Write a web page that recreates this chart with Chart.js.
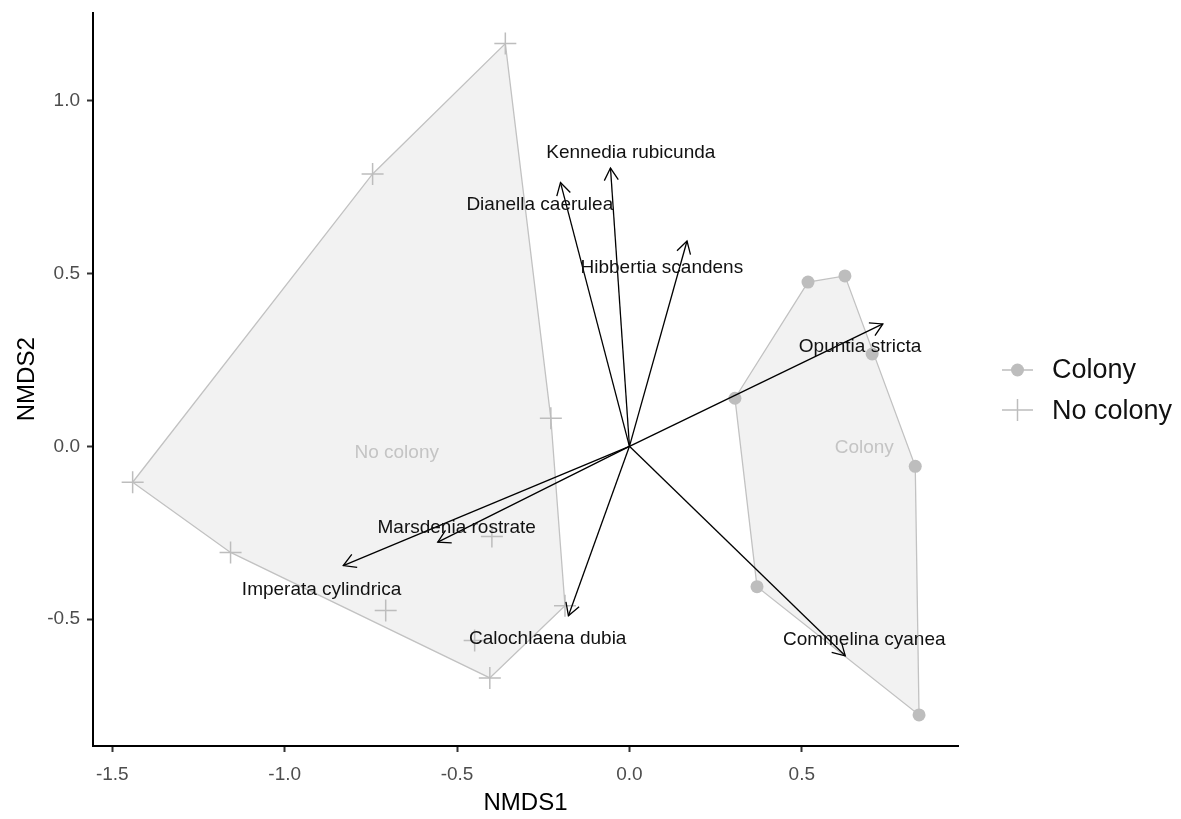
<!DOCTYPE html>
<html>
<head>
<meta charset="utf-8">
<script src="https://cdn.jsdelivr.net/npm/chart.js@4/dist/chart.umd.min.js"></script>
<style>
html,body{margin:0;padding:0;background:#ffffff;}
#wrap{width:1181px;height:819px;position:relative;}
</style>
</head>
<body>
<div id="wrap"><canvas id="c" width="1181" height="819"></canvas></div>
<script>
// ---- data ----
const groups = ['Colony', 'No colony'];

const colonyX = [0.518, 0.625, 0.704, 0.306, 0.829, 0.370, 0.840];
const colonyY = [0.475, 0.493, 0.267, 0.139, -0.058, -0.406, -0.777];

const noColonyX = [-0.360, -0.745, -1.441, -1.157, -0.707, -0.405, -0.187, -0.228, -0.399, -0.449];
const noColonyY = [1.165, 0.788, -0.104, -0.307, -0.475, -0.670, -0.461, 0.081, -0.261, -0.562];

const groupLabelX = [0.681, -0.675];
const groupLabelY = [0.003, -0.014];

const species = ['Kennedia rubicunda', 'Dianella caerulea', 'Hibbertia scandens', 'Opuntia stricta',
                 'Commelina cyanea', 'Calochlaena dubia', 'Marsdenia rostrate', 'Imperata cylindrica'];
const arrowX = [-0.055, -0.200, 0.167, 0.735, 0.626, -0.177, -0.556, -0.830];
const arrowY = [0.805, 0.763, 0.594, 0.354, -0.606, -0.490, -0.277, -0.345];
const labelX = [0.004, -0.260, 0.094, 0.669, 0.681, -0.237, -0.501, -0.893];
const labelY = [0.855, 0.704, 0.522, 0.293, -0.554, -0.551, -0.229, -0.409];

const xTicks = [-1.5, -1.0, -0.5, 0.0, 0.5];
const yTicks = [-0.5, 0.0, 0.5, 1.0];

// ---- helpers ----
const FONT = '"Liberation Sans", Arial, Helvetica, sans-serif';
function toPoints(xs, ys) { return xs.map((x, i) => ({ x: x, y: ys[i] })); }
function convexHull(pts) {
  const p = pts.slice().sort((a, b) => a.x === b.x ? a.y - b.y : a.x - b.x);
  const cross = (o, a, b) => (a.x - o.x) * (b.y - o.y) - (a.y - o.y) * (b.x - o.x);
  const lower = [];
  for (const q of p) { while (lower.length >= 2 && cross(lower[lower.length - 2], lower[lower.length - 1], q) <= 0) lower.pop(); lower.push(q); }
  const upper = [];
  for (let i = p.length - 1; i >= 0; i--) { const q = p[i]; while (upper.length >= 2 && cross(upper[upper.length - 2], upper[upper.length - 1], q) <= 0) upper.pop(); upper.push(q); }
  upper.pop(); lower.pop();
  const h = lower.concat(upper);
  h.push(h[0]);
  return h;
}

const colonyPts = toPoints(colonyX, colonyY);
const noColonyPts = toPoints(noColonyX, noColonyY);

const GREY = '#bdbdbd';
const datasets = [];

// arrows (top)
species.forEach((s, i) => {
  datasets.push({
    label: s, isArrow: true,
    data: [{ x: 0, y: 0 }, { x: arrowX[i], y: arrowY[i] }],
    showLine: true, borderColor: '#000', borderWidth: 1.3,
    pointRadius: 0, pointHoverRadius: 0, fill: false, order: 1
  });
});
// points
datasets.push({
  label: groups[0], data: colonyPts, pointStyle: 'circle', pointRadius: 6.5,
  backgroundColor: GREY, borderColor: GREY, borderWidth: 0, order: 3
});
datasets.push({
  label: groups[1], data: noColonyPts, pointStyle: 'cross', pointRadius: 11,
  borderColor: GREY, backgroundColor: GREY, borderWidth: 1.5, order: 3
});
// hulls
datasets.push({
  label: groups[0] + ' hull', isHull: true, data: convexHull(colonyPts),
  showLine: true, borderColor: '#c2c2c2', borderWidth: 1.3, pointRadius: 0, fill: false, order: 5
});
datasets.push({
  label: groups[1] + ' hull', isHull: true, data: convexHull(noColonyPts),
  showLine: true, borderColor: '#c2c2c2', borderWidth: 1.3, pointRadius: 0, fill: false, order: 5
});

const hullFillPlugin = {
  id: 'hullFill',
  beforeDatasetsDraw(chart) {
    const ctx = chart.ctx;
    ctx.save();
    chart.data.datasets.forEach((ds, i) => {
      if (!ds.isHull) return;
      const meta = chart.getDatasetMeta(i);
      ctx.beginPath();
      meta.data.forEach((pt, j) => { if (j === 0) ctx.moveTo(pt.x, pt.y); else ctx.lineTo(pt.x, pt.y); });
      ctx.closePath();
      ctx.fillStyle = '#f2f2f2';
      ctx.fill();
    });
    ctx.restore();
  }
};

const TEXT_DY = 2;
const overlayPlugin = {
  id: 'overlay',
  afterDatasetsDraw(chart) {
    const ctx = chart.ctx;
    const xs = chart.scales.x, ys = chart.scales.y;
    ctx.save();
    // arrow heads
    chart.data.datasets.forEach((ds, i) => {
      if (!ds.isArrow) return;
      const meta = chart.getDatasetMeta(i);
      const a = meta.data[0], b = meta.data[1];
      const ang = Math.atan2(b.y - a.y, b.x - a.x);
      const L = 14, w = Math.PI / 6;
      ctx.beginPath();
      ctx.moveTo(b.x - L * Math.cos(ang - w), b.y - L * Math.sin(ang - w));
      ctx.lineTo(b.x, b.y);
      ctx.lineTo(b.x - L * Math.cos(ang + w), b.y - L * Math.sin(ang + w));
      ctx.strokeStyle = '#000';
      ctx.lineWidth = 1.3;
      ctx.stroke();
    });
    // group labels
    ctx.font = '19px ' + FONT;
    ctx.textAlign = 'center';
    ctx.textBaseline = 'middle';
    ctx.fillStyle = '#c4c4c4';
    groups.forEach((g, i) => {
      ctx.fillText(g, xs.getPixelForValue(groupLabelX[i]), ys.getPixelForValue(groupLabelY[i]) + TEXT_DY);
    });
    // species labels
    ctx.fillStyle = '#111';
    species.forEach((s, i) => {
      ctx.fillText(s, xs.getPixelForValue(labelX[i]), ys.getPixelForValue(labelY[i]) + TEXT_DY);
    });
    ctx.restore();
  },
  afterDraw(chart) {
    const ctx = chart.ctx;
    ctx.save();
    const lx0 = 1002, lx1 = 1033, cx = 1017.5;
    const yC = 370, yN = 410;
    ctx.strokeStyle = GREY; ctx.fillStyle = GREY; ctx.lineWidth = 1.5;
    // Colony key
    ctx.beginPath(); ctx.moveTo(lx0, yC); ctx.lineTo(lx1, yC); ctx.stroke();
    ctx.beginPath(); ctx.arc(cx, yC, 6.5, 0, Math.PI * 2); ctx.fill();
    // No colony key
    ctx.beginPath(); ctx.moveTo(lx0, yN); ctx.lineTo(lx1, yN); ctx.stroke();
    ctx.beginPath(); ctx.moveTo(cx, yN - 11); ctx.lineTo(cx, yN + 11); ctx.stroke();
    // texts
    ctx.font = '27px ' + FONT;
    ctx.fillStyle = '#111';
    ctx.textAlign = 'left';
    ctx.textBaseline = 'middle';
    ctx.fillText(groups[0], 1052, yC + 1);
    ctx.fillText(groups[1], 1052, yN + 2);
    ctx.restore();
  }
};

new Chart(document.getElementById('c'), {
  type: 'scatter',
  data: { datasets: datasets },
  options: {
    responsive: false,
    devicePixelRatio: 1,
    animation: false,
    events: [],
    layout: { padding: { left: 0, right: 223, top: 12, bottom: 0 } },
    plugins: { legend: { display: false }, tooltip: { enabled: false } },
    scales: {
      x: {
        type: 'linear', min: -1.556, max: 0.953,
        afterBuildTicks: s => { s.ticks = xTicks.map(v => ({ value: v })); },
        afterFit: s => { s.height = 73; s.paddingLeft = 0; s.paddingRight = 0; },
        ticks: { callback: v => Number(v).toFixed(1), color: '#4d4d4d', font: { size: 19, family: FONT }, padding: 11, maxRotation: 0, autoSkip: false },
        grid: { display: true, drawOnChartArea: false, drawTicks: true, tickLength: 6, tickColor: '#333', tickWidth: 2 },
        border: { display: true, color: '#000', width: 2 },
        title: { display: true, text: 'NMDS1', color: '#000', font: { size: 24, family: FONT }, padding: { top: 0, bottom: 1 } }
      },
      y: {
        type: 'linear', min: -0.867, max: 1.255,
        afterBuildTicks: s => { s.ticks = yTicks.map(v => ({ value: v })); },
        afterFit: s => { s.width = 93; s.paddingTop = 0; s.paddingBottom = 0; },
        ticks: { callback: v => Number(v).toFixed(1), color: '#4d4d4d', font: { size: 19, family: FONT }, padding: 7, autoSkip: false },
        grid: { display: true, drawOnChartArea: false, drawTicks: true, tickLength: 6, tickColor: '#333', tickWidth: 2 },
        border: { display: true, color: '#000', width: 2 },
        title: { display: true, text: 'NMDS2', color: '#000', font: { size: 24, family: FONT }, padding: { top: 13, bottom: 0 } }
      }
    }
  },
  plugins: [hullFillPlugin, overlayPlugin]
});
</script>
</body>
</html>
